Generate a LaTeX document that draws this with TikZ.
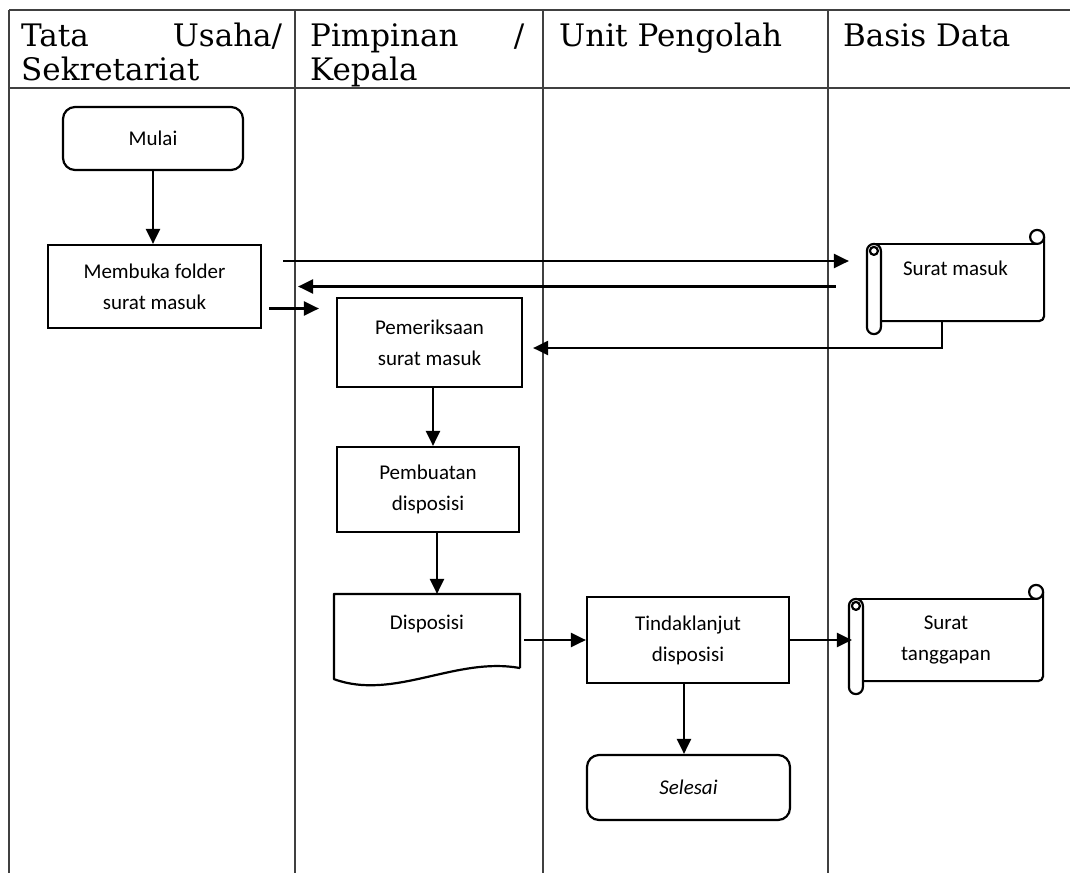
\documentclass[tikz,border=0pt]{standalone}
\usepackage{fontspec}
\setmainfont{Carlito}
\newfontfamily\headfont{DejaVu Serif}
\usepackage{tikz}
\usetikzlibrary{arrows.meta, positioning}

\tikzset{
  lane/.style={line width=1.3pt, black!75},
  head/.style={anchor=north west, inner sep=0pt, font=\headfont\fontsize{31}{34}\selectfont},
  box/.style={draw, line width=2.2pt, align=center, inner sep=0pt, font=\fontsize{21}{31}\selectfont},
  startstop/.style={box, rounded corners=12pt},
  shapebox/.style={box, draw=none},
  outline/.style={line width=2.2pt, line join=round},
  flow/.style={line width=2.2pt, -{Triangle[length=15pt,width=14pt]}},
}

% document outline around a node
\newcommand{\docoutline}[1]{%
  \draw[outline] (#1.south east) -- (#1.north east) -- (#1.north west) -- ([yshift=-11pt]#1.south west)
    .. controls ([xshift=60pt,yshift=-33pt]#1.south west) and ([xshift=-64pt,yshift=12pt]#1.south east) .. (#1.south east);}

% horizontal scroll outline around a node
\newcommand{\scrolloutline}[1]{%
  \draw[outline] ([xshift=7pt]#1.north west) -- ([xshift=-7pt]#1.north east);
  \draw[outline] ([xshift=-7pt,yshift=7pt]#1.north east) circle (7pt);
  \draw[outline, rounded corners=5pt] ([yshift=7pt]#1.north east) -- (#1.south east) -- ([xshift=14pt]#1.south west);
  \draw[outline, rounded corners=7pt] (#1.north west) rectangle ([xshift=14pt,yshift=-13pt]#1.south west);
  \draw[outline] ([xshift=7pt,yshift=-7pt]#1.north west) circle (4pt);}

\begin{document}
\begin{tikzpicture}[x=1pt, y=-1pt]
  \useasboundingbox (0,0) rectangle (1070,873);

  % lanes
  \draw[lane] (9,10) -- (1070,10);
  \draw[lane] (9,88) -- (1070,88);
  \foreach \x in {9,295,543,828}
    \draw[lane] (\x,10) -- (\x,873);

  \node[head, text width=261pt, align=justify] (h1) at (21,23) {Tata\hfill Usaha/\\Sekretariat};
  \node[head, text width=214pt, align=justify] (h2) at (310,23) {Pimpinan\hfill /\\Kepala};
  \node[head] (h3) at (559,23) {Unit Pengolah};
  \node[head] (h4) at (843,23) {Basis Data};

  % steps
  \node[startstop, minimum width=180pt, minimum height=63pt] (mulai) at (153,138.5) {Mulai};
  \node[box, minimum width=213pt, minimum height=83pt] (buka) at (154.5,286.5) {Membuka folder\\surat masuk};
  \node[box, minimum width=185pt, minimum height=89pt] (periksa) at (429.5,342.5) {Pemeriksaan\\surat masuk};
  \node[box, minimum width=182pt, minimum height=85pt] (buat) at (428,489.5) {Pembuatan\\disposisi};
  \node[shapebox, minimum width=184pt, minimum height=72pt, text height=14pt, text depth=18pt] (disp) at (427,631) {Disposisi};
  \node[box, minimum width=202pt, minimum height=86pt] (tindak) at (688,640) {Tindaklanjut\\disposisi};
  \node[startstop, minimum width=203pt, minimum height=65pt, font=\fontsize{21}{31}\selectfont\itshape] (selesai) at (688.5,787.5) {Selesai};
  \node[shapebox, minimum width=175pt, minimum height=75pt, text height=14pt, text depth=29pt] (masuk) at (955.5,282.5) {Surat masuk};
  \node[shapebox, minimum width=192pt, minimum height=80pt] (tanggap) at (946,640) {Surat\\tanggapan};

  \docoutline{disp}
  \scrolloutline{masuk}
  \scrolloutline{tanggap}

  % connectors
  \coordinate (c1) at ([yshift=-22pt]buka.east);
  \coordinate (c2) at ([yshift=25.5pt]buka.east);
  \coordinate (c3) at ([xshift=-13.5pt]masuk.south);
  \coordinate (c4) at ([yshift=-5.5pt]periksa.east);
  \coordinate (c5) at ([xshift=3.5pt]periksa.south);
  \coordinate (c6) at ([xshift=9pt]buat.south);
  \coordinate (c7) at ([xshift=-4pt]tindak.south);

  \draw[flow] (mulai.south) -- (mulai.south |- buka.north);
  \draw[flow, shorten <=7pt, shorten >=17pt] (c1) -- (c1 -| periksa.west);
  \draw[flow, shorten <=21pt, shorten >=18pt] (c2) -- (c2 -| masuk.west);
  \draw[flow, shorten <=31pt, shorten >=36pt] (masuk.west |- buka.east) -- (buka.east);
  \draw[flow, shorten >=10pt] (c3) |- (c4);
  \draw[flow] (c5) -- (c5 |- buat.north);
  \draw[flow] (c6) -- (c6 |- disp.north);
  \draw[flow, shorten <=4pt] (disp.east |- tindak.west) -- (tindak.west);
  \draw[flow, shorten >=-3pt] (tindak.east) -- (tanggap.west);
  \draw[flow] (c7) -- (c7 |- selesai.north);
\end{tikzpicture}
\end{document}
